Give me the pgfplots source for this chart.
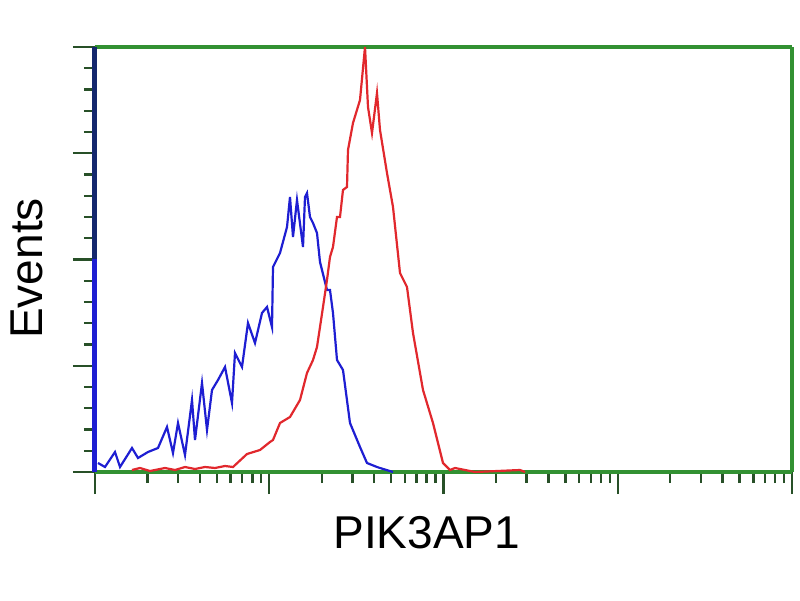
\documentclass[border=0pt]{standalone}
\usepackage{pgfplots}
\pgfplotsset{compat=1.18}
\usepackage{fontspec}
\setmainfont{Liberation Sans}

\definecolor{frame}{RGB}{50,145,50}
\definecolor{tickc}{RGB}{40,80,40}
\definecolor{spine}{RGB}{20,40,110}
\definecolor{blueline}{RGB}{30,30,210}
\definecolor{redline}{RGB}{225,40,45}

\begin{document}
\begin{tikzpicture}
\begin{axis}[
    scale only axis,
    width=697pt, height=425pt,
    xmin=0, xmax=4, ymin=0, ymax=425,
    clip=false,
    separate axis lines,
    axis line style={frame, line width=3.6pt},
    tick pos=left,
    tick align=outside,
    xtick={0,1,2,3,4},
    minor xtick={0.301,0.477,0.602,0.699,0.778,0.845,0.903,0.954,
                 1.301,1.477,1.602,1.699,1.778,1.845,1.903,1.954,
                 2.301,2.477,2.602,2.699,2.778,2.845,2.903,2.954,
                 3.301,3.477,3.602,3.699,3.778,3.845,3.903,3.954},
    ytick={0,106.25,212.5,318.75,425},
    minor y tick num=4,
    xticklabels={}, yticklabels={},
    major tick length=22pt,
    minor tick length=11pt,
    every tick/.style={tickc, line width=2.4pt},
    xlabel={PIK3AP1},
    ylabel={Events},
    label style={font=\fontsize{46}{55}\selectfont},
    xlabel style={at={(axis description cs:0.476,-0.179)}, anchor=base},
    ylabel style={at={(axis description cs:-0.075,0.479)}, anchor=base},
]
\draw[spine, line width=5pt] (rel axis cs:0,0.5) -- (rel axis cs:0,1);
% blue histogram (decade position, events)
\addplot[blueline, line width=2.2pt] coordinates {
(0.0172,9) (0.0574,5) (0.1148,20) (0.1435,5) (0.2123,24)
(0.2468,14) (0.3042,20) (0.3615,24) (0.4132,45) (0.4476,19) (0.4763,49)
(0.5165,17) (0.5567,72) (0.5739,32) (0.6141,89) (0.6428,42) (0.6714,82)
(0.7059,92) (0.7461,105) (0.7862,69) (0.8034,119) (0.8436,105) (0.8780,149)
(0.9182,129) (0.9584,159) (0.9871,165) (1.0158,145) (1.0215,205) (1.0617,219)
(1.1019,245) (1.1191,275) (1.1363,235) (1.1592,272) (1.1937,225) (1.2052,275)
(1.2166,279) (1.2339,255) (1.2511,249) (1.2740,239) (1.2912,210) (1.3314,182)
(1.3486,182) (1.3658,159) (1.3888,112) (1.4232,102) (1.4634,49) (1.5208,25)
(1.5609,9) (1.6183,5) (1.6356,4) (1.7102,0)
};
% first channel of the blue histogram
\addplot[blueline, line width=5pt] coordinates {(0,0) (0,213)};
% red histogram
\addplot[redline, line width=2.2pt] coordinates {
(0.2123,2) (0.2582,4) (0.3156,1) (0.4017,4) (0.4591,2) (0.5165,5) (0.5739,3)
(0.6313,5) (0.6887,4) (0.7461,6) (0.7920,5) (0.8723,18) (0.9469,22) (1.0043,30)
(1.0215,32) (1.0617,49) (1.1191,55) (1.1765,72) (1.2166,99) (1.2511,112)
(1.2740,125) (1.3085,165) (1.3314,192) (1.3486,215) (1.3658,225) (1.3888,255)
(1.4060,255) (1.4232,282) (1.4462,285) (1.4519,322) (1.4806,349) (1.5208,372)
(1.5495,425) (1.5667,365) (1.5897,339) (1.6183,379) (1.6356,342) (1.6757,299)
(1.7102,265) (1.7504,199) (1.7905,185) (1.8250,139) (1.8824,82) (1.9397,49)
(1.9971,9) (2.0373,2) (2.066,4) (2.123,2) (2.181,0) (2.439,2) (2.468,0)
};
\end{axis}
\pgfresetboundingbox
\useasboundingbox (-95pt,-128pt) rectangle (705pt,472pt);
\end{tikzpicture}
\end{document}
